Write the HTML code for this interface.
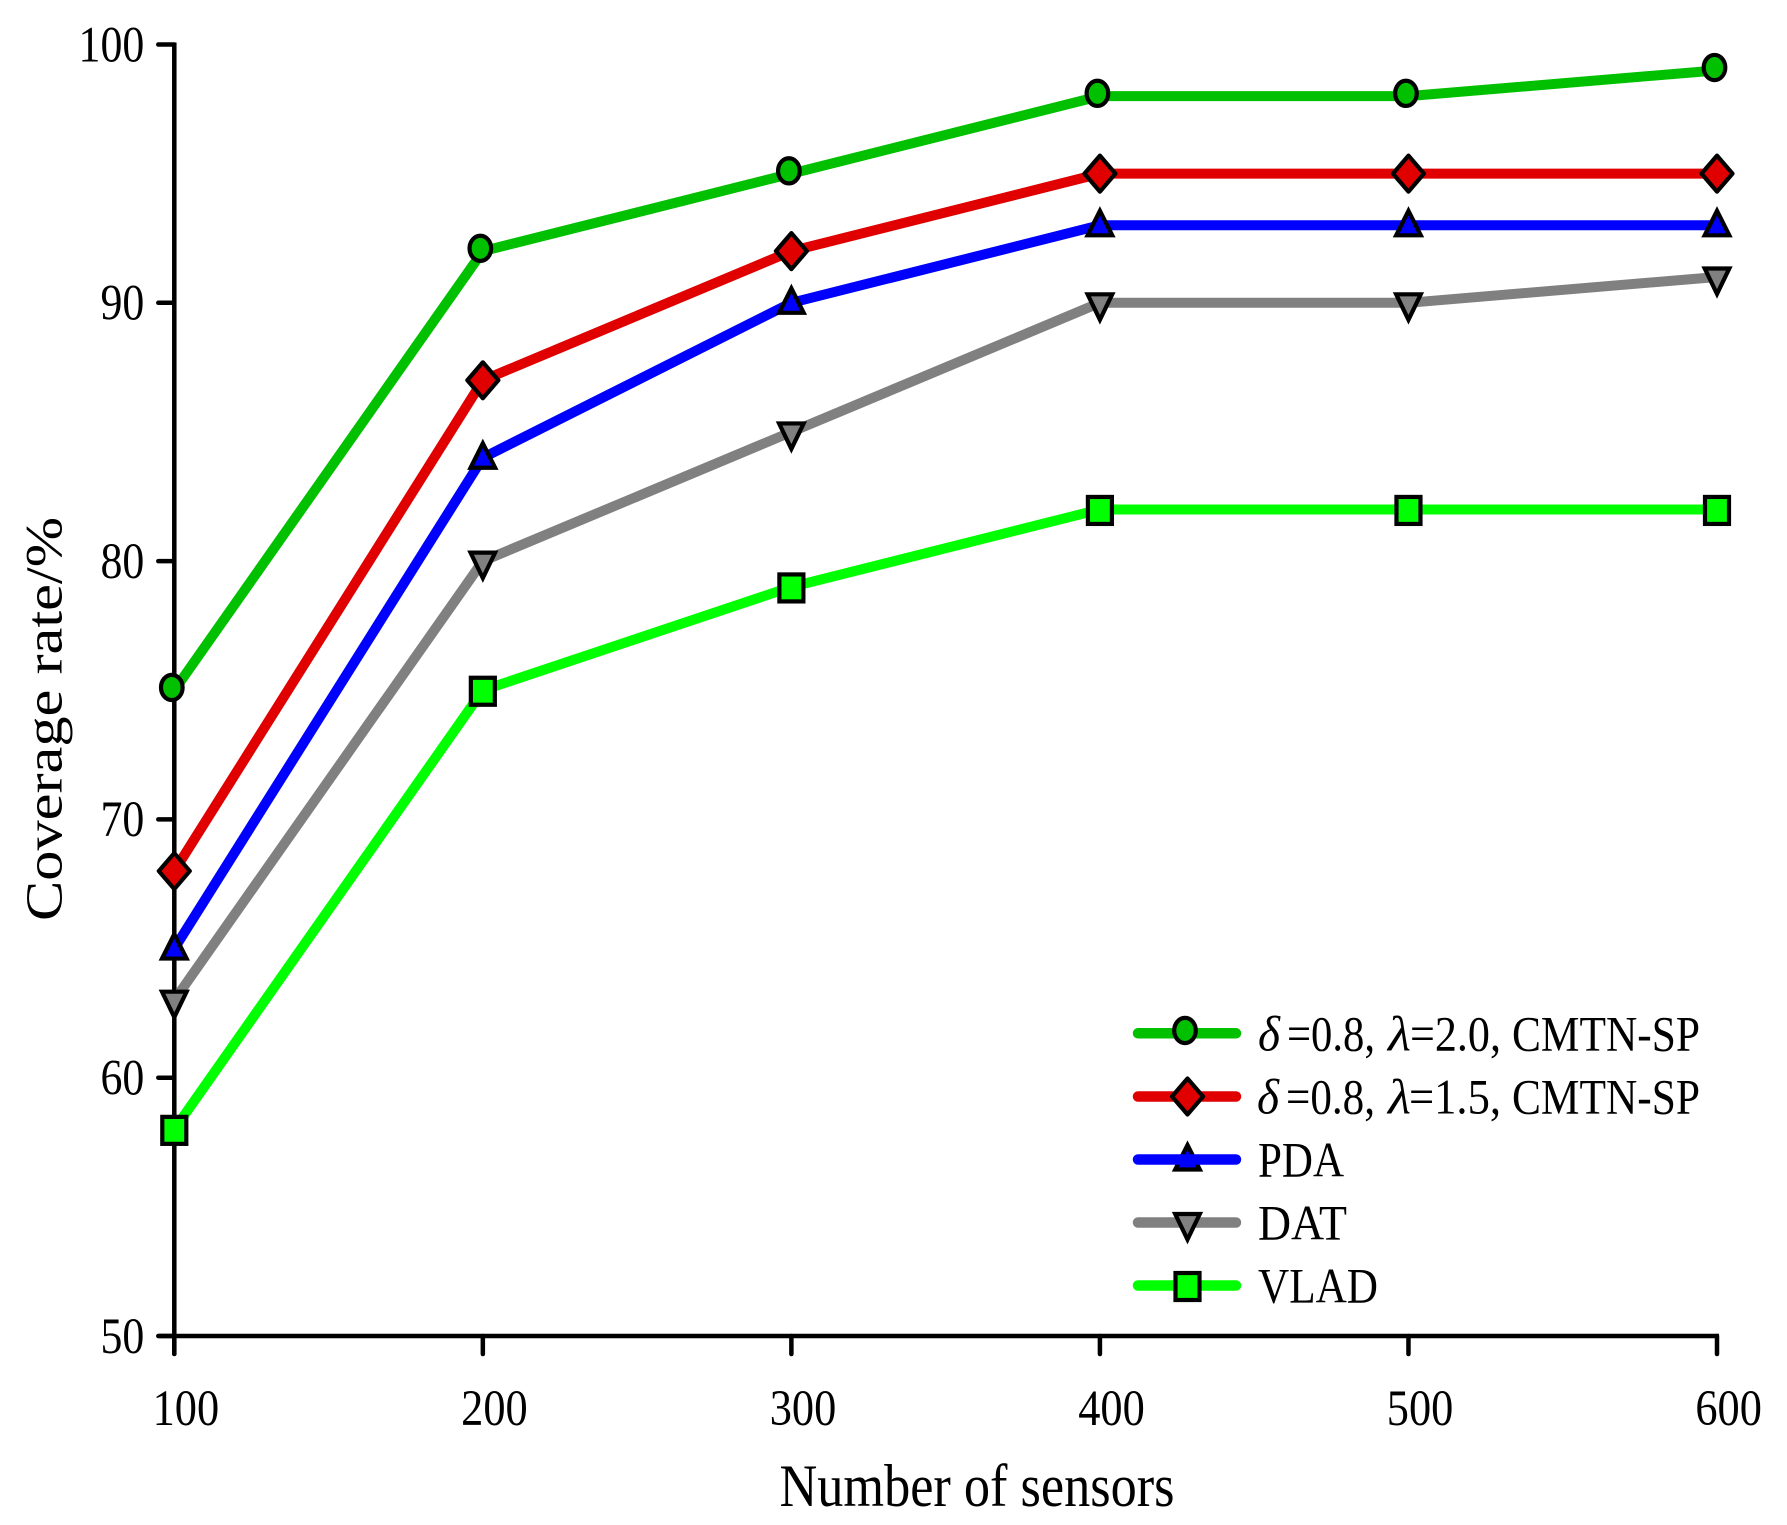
<!DOCTYPE html>
<html>
<head>
<meta charset="utf-8">
<title>Coverage rate vs number of sensors</title>
<style>
html,body{margin:0;padding:0;background:#fff;}
svg{display:block;}
text{font-family:"Liberation Serif",serif;fill:#000;}
</style>
</head>
<body>
<svg id="chart" xmlns="http://www.w3.org/2000/svg" width="1787" height="1525" viewBox="0 0 1787 1525">
<rect x="0" y="0" width="1787" height="1525" fill="#fff"/>
<g id="axes"></g>
<g id="series"></g>
<g id="legend"></g>
<g id="legend-text" font-size="50">
<g>
<text x="1258" y="1050.5" font-style="italic" textLength="22" lengthAdjust="spacingAndGlyphs">δ</text>
<text x="1287" y="1050.5" textLength="88" lengthAdjust="spacingAndGlyphs">=0.8,</text>
<text x="1388" y="1050.5" font-style="italic" textLength="23" lengthAdjust="spacingAndGlyphs">λ</text>
<text x="1410" y="1050.5" textLength="91" lengthAdjust="spacingAndGlyphs">=2.0,</text>
<text x="1512" y="1050.5" textLength="188" lengthAdjust="spacingAndGlyphs">CMTN-SP</text>
</g>
<g>
<text x="1257" y="1113.5" font-style="italic" textLength="22" lengthAdjust="spacingAndGlyphs">δ</text>
<text x="1286" y="1113.5" textLength="89" lengthAdjust="spacingAndGlyphs">=0.8,</text>
<text x="1388" y="1113.5" font-style="italic" textLength="23" lengthAdjust="spacingAndGlyphs">λ</text>
<text x="1409" y="1113.5" textLength="92" lengthAdjust="spacingAndGlyphs">=1.5,</text>
<text x="1512" y="1113.5" textLength="188" lengthAdjust="spacingAndGlyphs">CMTN-SP</text>
</g>
<text x="1258" y="1176.5" textLength="86" lengthAdjust="spacingAndGlyphs">PDA</text>
<text x="1258" y="1239.5" textLength="89" lengthAdjust="spacingAndGlyphs">DAT</text>
<text x="1258" y="1302.5" textLength="120" lengthAdjust="spacingAndGlyphs">VLAD</text>
</g>
<text x="779.5" y="1506" font-size="60" textLength="395" lengthAdjust="spacingAndGlyphs">Number of sensors</text>
<text transform="translate(61.5,921) rotate(-90)" x="0" y="0" font-size="52" textLength="404" lengthAdjust="spacingAndGlyphs">Coverage rate/%</text>
</svg>
<script>
const categories = [100, 200, 300, 400, 500, 600];
const yTicks = [50, 60, 70, 80, 90, 100];
const seriesCircle = [75, 92, 95, 98, 98, 99];
const seriesDiamond = [68, 87, 92, 95, 95, 95];
const seriesPda = [65, 84, 90, 93, 93, 93];
const seriesDat = [63, 80, 85, 90, 90, 91];
const seriesVlad = [58, 75, 79, 82, 82, 82];

const NS = 'http://www.w3.org/2000/svg';
const X0 = 174.3, X1 = 1717, Y0 = 1336, Y1 = 44.5;
function xScale(v) { return X0 + (v - 100) / 500 * (X1 - X0); }
function yScale(v) { return Y0 - (v - 50) / 50 * (Y0 - Y1); }

function make(tag, attrs, parent) {
  const el = document.createElementNS(NS, tag);
  for (const k in attrs) el.setAttribute(k, attrs[k]);
  parent.appendChild(el);
  return el;
}

function drawMarker(kind, cx, cy, fill, parent) {
  const base = { fill: fill, stroke: '#000', 'stroke-width': 4.2, 'stroke-linejoin': 'miter' };
  let m;
  if (kind === 'circle') {
    m = make('ellipse', Object.assign({ cx: cx - 2.5, cy: cy - 2.8, rx: 10.8, ry: 12.6 }, base), parent);
  } else if (kind === 'diamond') {
    m = make('polygon', Object.assign({ points: [cx, cy - 18, cx + 15.5, cy, cx, cy + 18, cx - 15.5, cy].join(' ') }, base, { 'stroke-linejoin': 'round' }), parent);
  } else if (kind === 'up') {
    m = make('polygon', Object.assign({ points: [cx, cy - 14.5, cx + 12.3, cy + 10, cx - 12.3, cy + 10].join(' ') }, base), parent);
  } else if (kind === 'down') {
    m = make('polygon', Object.assign({ points: [cx, cy + 17, cx + 12.3, cy - 8.5, cx - 12.3, cy - 8.5].join(' ') }, base), parent);
  } else {
    m = make('rect', Object.assign({ x: cx - 12, y: cy - 12.5, width: 24, height: 27 }, base), parent);
  }
  return m;
}

const axes = document.getElementById('axes');
const seriesLayer = document.getElementById('series');
const legend = document.getElementById('legend');
const AXIS_W = 4.5;

const yAxisLine = make('line', { x1: X0, y1: Y1 - 2, x2: X0, y2: Y0 + 19, stroke: '#000', 'stroke-width': AXIS_W }, axes);


const xAxisLine = make('line', { x1: X0 - 16, y1: Y0, x2: X1 + 2, y2: Y0, stroke: '#000', 'stroke-width': AXIS_W }, axes);



yTicks.forEach(function (v) {
  const t = make('line', { x1: X0 - 16, y1: yScale(v), x2: X0, y2: yScale(v), stroke: '#000', 'stroke-width': AXIS_W, 'stroke-linecap': 'round' }, axes);
  
  
  const l = make('text', { 'font-size': 51, 'text-anchor': 'end', transform: 'translate(144.3,' + (yScale(v) + 16.8) + ') scale(0.86,1)' }, axes);
  
  
  l.textContent = String(v);
});

categories.forEach(function (v) {
  const t = make('line', { x1: xScale(v), y1: Y0, x2: xScale(v), y2: Y0 + 18, stroke: '#000', 'stroke-width': AXIS_W, 'stroke-linecap': 'round' }, axes);
  
  
  const l = make('text', { 'font-size': 51, 'text-anchor': 'middle', transform: 'translate(' + (xScale(v) + 11.6) + ',1425) scale(0.87,1)' }, axes);
  
  
  l.textContent = String(v);
});

const seriesDefs = [
  { id: 'cmtn-sp-2-0', values: seriesCircle, color: '#00c000', marker: 'circle', ly: 1033.3 },
  { id: 'cmtn-sp-1-5', values: seriesDiamond, color: '#e00000', marker: 'diamond', ly: 1096.5 },
  { id: 'pda', values: seriesPda, color: '#0000ff', marker: 'up', ly: 1159.5 },
  { id: 'dat', values: seriesDat, color: '#808080', marker: 'down', ly: 1222.5 },
  { id: 'vlad', values: seriesVlad, color: '#00ff00', marker: 'square', ly: 1285.5 }
];

seriesDefs.forEach(function (s) {
  const pts = s.values.map(function (v, i) { return xScale(categories[i]) + ',' + yScale(v); }).join(' ');
  const line = make('polyline', { points: pts, fill: 'none', stroke: s.color, 'stroke-width': 10, 'stroke-linejoin': 'miter' }, seriesLayer);
  
  
  s.values.forEach(function (v, i) {
    const m = drawMarker(s.marker, xScale(categories[i]), yScale(v), s.color, seriesLayer);
    
    
  });
  const sw = make('line', { x1: 1138, y1: s.ly, x2: 1236, y2: s.ly, stroke: s.color, 'stroke-width': 10.5, 'stroke-linecap': 'round' }, legend);
  
  
  const lm = drawMarker(s.marker, 1187.5, s.ly, s.color, legend);
  
  
  if (s.marker === 'up') {
    legend.appendChild(sw);
  }
});
</script>
</body>
</html>
